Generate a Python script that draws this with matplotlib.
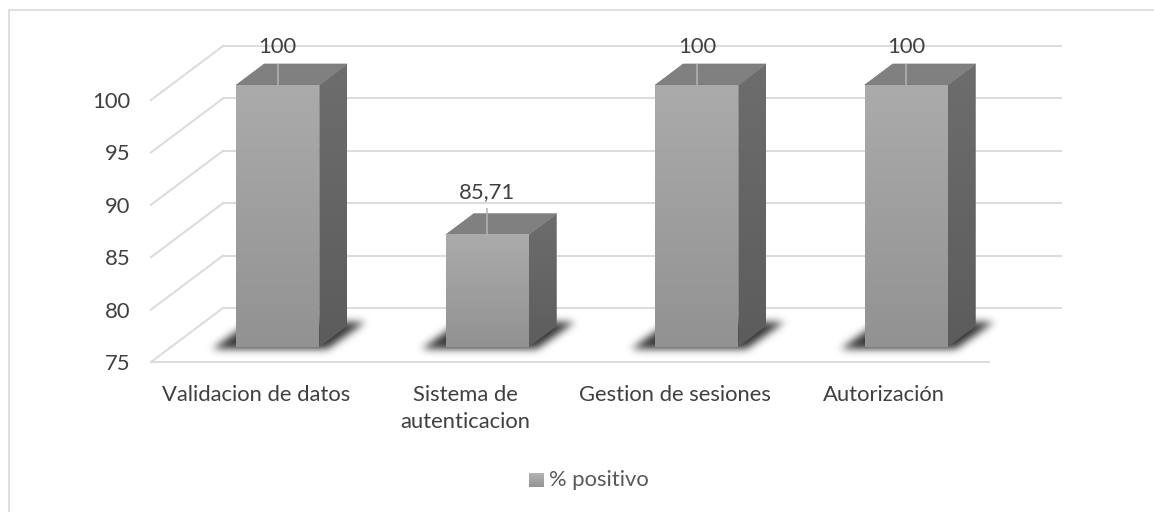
import numpy as np
import matplotlib
matplotlib.use("Agg")
import matplotlib.pyplot as plt
from matplotlib.colors import to_rgb
from matplotlib.path import Path
from matplotlib.transforms import Affine2D
from matplotlib.patches import Polygon

categories = ["Validacion de datos", "Sistema de\nautenticacion", "Gestion de sesiones", "Autorización"]
values = [100, 85.71, 100, 100]
value_labels = ["100", "85,71", "100", "100"]
y_ticks = [75, 80, 85, 90, 95, 100]
series_name = "% positivo"

W, H = 1154, 512
FONT = "Lato"
FS = 15.8
TEXT = "#404040"
GRID = "#dcdcdc"

fig = plt.figure(figsize=(W / 100, H / 100), dpi=100, facecolor="white")
fig.add_artist(plt.Line2D([8.5 / W, 8.5 / W, 1], [0, 1 - 10 / H, 1 - 10 / H], color="#d9d9d9", lw=1.2))

L, R, T, B = 151, 989, 100, 362
ax = fig.add_axes([L / W, 1 - B / H, (R - L) / W, (B - T) / H])
ax.set_xlim(-0.5, 3.5)
ax.set_ylim(75, 100)
ax.set_autoscale_on(False)
ax.patch.set_visible(False)
for s in ax.spines.values():
    s.set_visible(False)
ax.set_xticks(range(4))
ax.set_xticklabels([])
ax.tick_params(length=0)
ax.set_yticks(y_ticks)
ax.set_yticklabels(y_ticks, fontname=FONT, fontsize=FS, color=TEXT)
ax.tick_params(axis="y", pad=15)


def off(dx, dy):
    """Depth offset in pixels applied after the data scale."""
    return ax.transData + Affine2D().translate(dx, dy)


DX, DY = 72, 54
inv = fig.transFigure.inverted()
for t in y_ticks:
    ax.plot([-0.5, 3.5], [t, t], transform=off(DX, DY), color=GRID, lw=1.5, clip_on=False, zorder=1)
    p0 = ax.transData.transform((-0.5, t))
    a, b = inv.transform(p0), inv.transform(p0 + np.array([DX, DY]))
    fig.add_artist(plt.Line2D([a[0], b[0]], [a[1], b[1]], color=GRID, lw=1.5, zorder=1))
ax.plot([-0.5, 3.5], [75, 75], color=GRID, lw=1.5, clip_on=False, zorder=1)

BW = 83 / ((R - L) / 4)
FX, FY = 22, 15
BDX, BDY = 28, 21
front = off(FX, FY)
back = off(FX + BDX, FY + BDY)
disp = Affine2D()


def gradient(x0, x1, y0, y1, top, bottom, transform, z):
    g = np.linspace(0, 1, 128)[:, None, None]
    img = np.array(to_rgb(top))[None, None, :] * (1 - g) + np.array(to_rgb(bottom))[None, None, :] * g
    return ax.imshow(img, extent=(x0, x1, y0, y1), origin="upper", aspect="auto",
                     transform=transform, zorder=z, interpolation="bilinear", clip_on=False)


def soft_shadow(poly, sigma, alpha):
    """Blurred dark polygon, given in display pixels."""
    pad = int(sigma * 4)
    xmin, ymin = np.floor(poly.min(axis=0)).astype(int) - pad
    xmax, ymax = np.ceil(poly.max(axis=0)).astype(int) + pad
    xx, yy = np.meshgrid(np.arange(xmin, xmax) + 0.5, np.arange(ymin, ymax) + 0.5)
    m = Path(poly).contains_points(np.c_[xx.ravel(), yy.ravel()]).reshape(xx.shape).astype(float)
    r = np.arange(-pad, pad + 1)
    k = np.exp(-r ** 2 / (2 * sigma ** 2))
    k /= k.sum()
    m = np.apply_along_axis(lambda c: np.convolve(c, k, mode="same"), 0, m)
    m = np.apply_along_axis(lambda c: np.convolve(c, k, mode="same"), 1, m)
    rgba = np.zeros(m.shape + (4,))
    rgba[..., 3] = np.clip(m * alpha, 0, 1)
    fig.figimage(rgba, xo=xmin, yo=ymin, origin="lower", zorder=-1)


for i, (v, lab) in enumerate(zip(values, value_labels)):
    x0, x1 = i - BW / 2, i + BW / 2
    px = lambda x, y, t: t.transform((x, y))
    fl, fr = px(x0, 75, front), px(x1, 75, front)
    soft_shadow(np.array([fl + (-24, -2), fr + (8, -2), fr + (46, 25), fl + (14, 25)]), 4.0, 0.8)
    # side face
    br_b, br_t = px(x1, 75, back), px(x1, v, back)
    fr_b, fr_t = px(x1, 75, front), px(x1, v, front)
    side = Polygon([fr_b, br_b, br_t, fr_t], closed=True, transform=disp, fc="none", ec="none")
    ax.add_patch(side)
    im = gradient(x1, x1 + BDX / ((R - L) / 4), 75 - 3, v + 3, "#6e6e6e", "#5a5a5a", front, 3)
    im.set_clip_on(True)
    im.set_clip_box(fig.bbox)
    im.set_clip_path(side)
    # top face
    fl_t, bl_t = px(x0, v, front), px(x0, v, back)
    ax.add_patch(Polygon([fl_t, fr_t, br_t, bl_t], closed=True, transform=disp, fc="#808080", ec="#7a7a7a",
                         lw=0.5, zorder=3, clip_on=False))
    # front face
    gradient(x0, x1, 75, v, "#ababab", "#929292", front, 4)
    # leader line and value label
    rise = 21 if v == max(values) else 27
    label_rise = 38 if v == max(values) else 43
    c = px(i, v, front)
    to_data = ax.transData.inverted()
    cd, cu = to_data.transform(c), to_data.transform(c + np.array([0, rise]))
    ax.plot([cd[0], cu[0]], [cd[1], cu[1]], color="#b4b4b4", lw=1.1, zorder=5, clip_on=False, solid_capstyle="butt")
    ax.annotate(lab, (i, v), xycoords=front, xytext=(0, label_rise * 0.72), textcoords="offset points",
                ha="center", va="center", fontname=FONT, fontsize=FS, color=TEXT, zorder=6, annotation_clip=False)
    # category label
    ax.annotate(categories[i], (i, 75), xycoords="data", xytext=(0, -16.5), textcoords="offset points",
                ha="center", va="top", fontname=FONT, fontsize=FS, color=TEXT, linespacing=1.45,
                annotation_clip=False)

# legend
lax = fig.add_axes([529 / W, 1 - 487 / H, 15 / W, 14 / H])
lax.imshow(np.linspace(0.70, 0.58, 32)[:, None], cmap="gray", vmin=0, vmax=1, aspect="auto")
lax.axis("off")
fig.text(549 / W, 1 - 480 / H, series_name, fontname=FONT, fontsize=FS, color="#595959", va="center", ha="left")

fig.savefig("out.png", dpi=100)
